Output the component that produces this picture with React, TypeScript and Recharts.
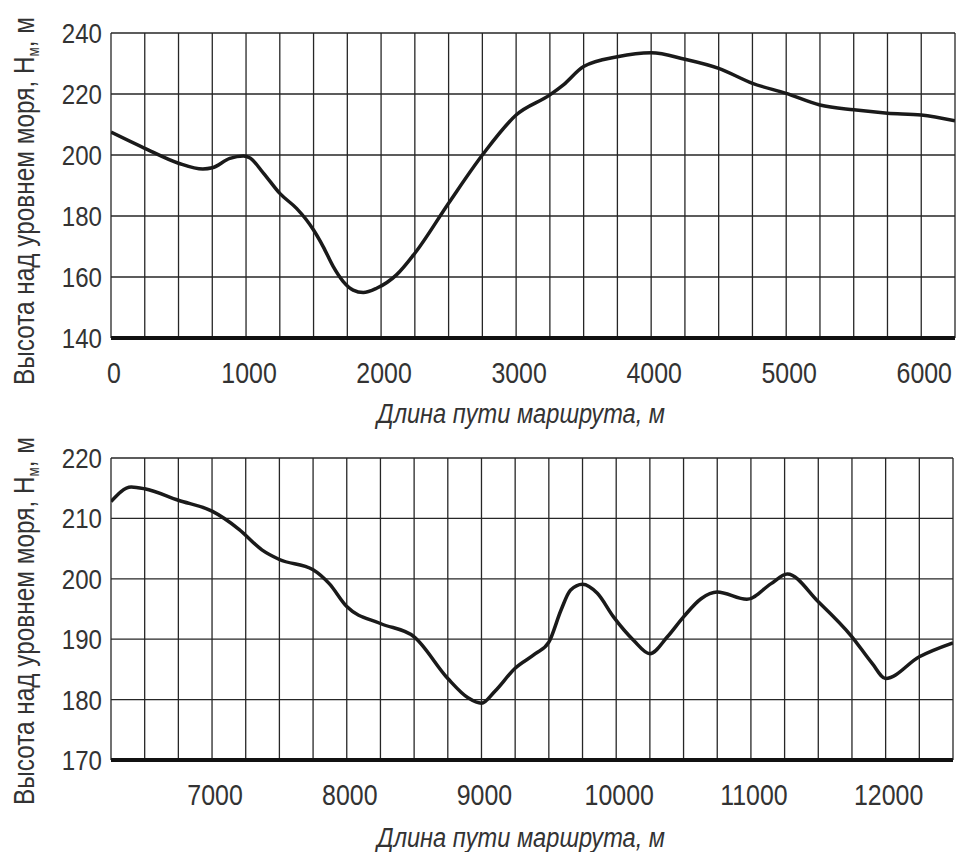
import React from 'react';
import { LineChart, Line, XAxis, YAxis, CartesianGrid } from 'recharts';

const FONT = "'Liberation Sans', Arial, sans-serif";
const INK = '#333';

// top part of the route, 0..6250 m
const topDist = [0, 250, 500, 680, 750, 880, 980, 1030, 1130, 1250, 1374, 1448, 1500, 1572, 1646, 1720, 1793, 1868, 1967, 2114, 2250, 2500, 2750, 3000, 3250, 3350, 3500, 3750, 4000, 4250, 4500, 4750, 5000, 5250, 5500, 5750, 6000, 6250];
const topHeight = [207.5, 202.2, 197.3, 195.4, 195.8, 198.9, 199.7, 199.0, 194.0, 187.4, 182.5, 178.7, 175.4, 169.9, 163.4, 158.5, 155.7, 154.9, 156.3, 160.7, 167.8, 184.2, 200, 213.1, 219.7, 223, 229, 232.2, 233.5, 231.4, 228.4, 223.5, 220.2, 216.4, 214.8, 213.7, 213.1, 211.2];

// bottom part of the route, 6250..12500 m
const botDist = [6250, 6400, 6500, 6750, 7000, 7200, 7370, 7500, 7750, 7870, 8000, 8250, 8500, 8750, 8900, 9000, 9100, 9250, 9400, 9500, 9590, 9660, 9750, 9860, 9980, 10130, 10250, 10380, 10500, 10630, 10750, 10970, 11150, 11270, 11500, 11750, 11900, 12000, 12250, 12500];
const botHeight = [212.8, 215.2, 214.9, 213.0, 211.2, 208.2, 204.8, 203.2, 201.5, 199.2, 195.4, 192.6, 190.4, 183.5, 180.3, 179.4, 181.4, 185.2, 187.6, 189.5, 194.8, 198.1, 199.1, 197.6, 193.7, 189.8, 187.6, 190.4, 193.7, 196.7, 197.8, 196.6, 199.2, 200.8, 196.2, 190.4, 186, 183.5, 187.1, 189.4];

const topXTicks = [0, 250, 500, 750, 1000, 1250, 1500, 1750, 2000, 2250, 2500, 2750, 3000, 3250, 3500, 3750, 4000, 4250, 4500, 4750, 5000, 5250, 5500, 5750, 6000, 6250];
const botXTicks = [6250, 6500, 6750, 7000, 7250, 7500, 7750, 8000, 8250, 8500, 8750, 9000, 9250, 9500, 9750, 10000, 10250, 10500, 10750, 11000, 11250, 11500, 11750, 12000, 12250, 12500];
const topYTicks = [140, 160, 180, 200, 220, 240];
const botYTicks = [170, 180, 190, 200, 210, 220];

const xTitle = 'Длина пути маршрута, м';

const topData = topDist.map((d, i) => ({ d, h: topHeight[i] }));
const botData = botDist.map((d, i) => ({ d, h: botHeight[i] }));

// narrow drafting-style digits: squeeze Liberation Sans horizontally
const XTick = ({ x, y, payload }: any) =>
  payload.value % 1000 === 0 ? (
    <text transform={`translate(${x + 3}, ${y + 21}) scale(0.86, 1)`} textAnchor='middle' fontFamily={FONT} fontSize={29} fill={INK}>
      {payload.value}
    </text>
  ) : null;

const YTick = ({ x, y, payload }: any) => (
  <text transform={`translate(${x}, ${y + 10}) scale(0.86, 1)`} textAnchor='end' fontFamily={FONT} fontSize={28} fill={INK}>
    {payload.value}
  </text>
);

const YTitle = ({ cy }: any) => (
  <text
    transform={`translate(34, ${cy}) rotate(-90) scale(0.84, 1)`}
    textAnchor='middle'
    fontFamily={FONT}
    fontSize={29}
    fill={INK}
  >
    Высота над уровнем моря, H
    <tspan fontSize={16} dy={5}>м</tspan>
    <tspan dy={-5}>, м</tspan>
  </text>
);

const Profile = ({ data, xTicks, yTicks, xDomain, yDomain, plotTop, plotBottom, right, titleY }: any) => {
  const height = 432;
  return (
    <LineChart width={958} height={height} data={data} margin={{ top: plotTop, right, left: 0, bottom: 0 }}>
      <CartesianGrid stroke='#262626' strokeWidth={1.3} />
      <XAxis
        dataKey='d'
        type='number'
        domain={xDomain}
        ticks={xTicks}
        interval={0}
        tickLine={false}
        tickSize={0}
        tickMargin={24}
        tick={<XTick />}
        axisLine={{ stroke: '#111', strokeWidth: 4 }}
        height={height - plotBottom}
        allowDataOverflow
      />
      <YAxis
        type='number'
        domain={yDomain}
        ticks={yTicks}
        interval={0}
        tickLine={false}
        tickSize={0}
        tickMargin={9}
        axisLine={false}
        tick={<YTick />}
        width={111}
        allowDataOverflow
      />
      <Line
        type='monotone'
        dataKey='h'
        stroke='#1a1a1a'
        strokeWidth={3.5}
        dot={false}
        isAnimationActive={false}
      />
      <text
        x={521}
        y={titleY}
        textAnchor='middle'
        fontFamily={FONT}
        fontStyle='italic'
        fontSize={27}
        fill={INK}
        textLength={288}
        lengthAdjust='spacingAndGlyphs'
      >
        {xTitle}
      </text>
      <YTitle cy={201} />
    </LineChart>
  );
};

const App = () => (
  <div style={{ position: 'absolute', left: 0, top: 0, width: 958, height: 852, background: '#fff' }}>
    <div style={{ position: 'absolute', left: 0, top: 0 }}>
      <Profile
        data={topData}
        xTicks={topXTicks}
        yTicks={topYTicks}
        xDomain={[0, 6250]}
        yDomain={[140, 240]}
        plotTop={33}
        plotBottom={338}
        right={3}
        titleY={423}
      />
    </div>
    <div style={{ position: 'absolute', left: 0, top: 420 }}>
      <Profile
        data={botData}
        xTicks={botXTicks}
        yTicks={botYTicks}
        xDomain={[6250, 12500]}
        yDomain={[170, 220]}
        plotTop={38}
        plotBottom={340}
        right={5}
        titleY={427}
      />
    </div>
  </div>
);

export default App;
